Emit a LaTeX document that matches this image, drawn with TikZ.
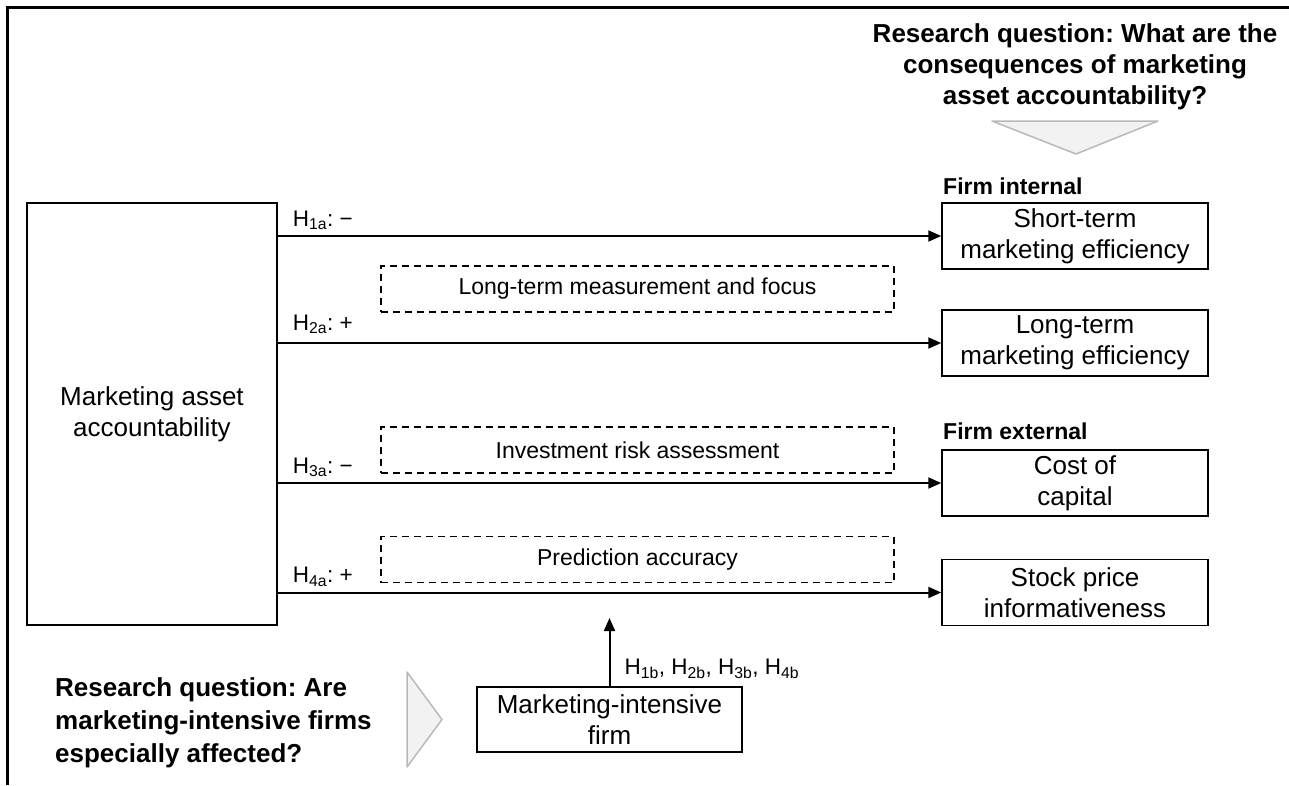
\documentclass[tikz,border=0pt]{standalone}
\usepackage{fontspec}
\setmainfont{Liberation Sans}
\usetikzlibrary{arrows.meta}
\frenchspacing

\begin{document}
\begin{tikzpicture}[x=1pt,y=-1pt,
  box/.style={draw,line width=1.5pt,align=center,inner sep=0pt,font=\fontsize{26}{31}\selectfont},
  outbox/.style={box,minimum width=266pt,minimum height=66pt},
  medbox/.style={draw,dash pattern=on 7pt off 5pt,line width=1.5pt,minimum width=513pt,minimum height=46pt,inner sep=0pt,font=\fontsize{23}{28}\selectfont},
  effect/.style={line width=2pt,-{Triangle[length=13pt,width=11pt]}},
  hyp/.style={anchor=base west,inner sep=0pt,xshift=14pt,yshift=10pt,font=\fontsize{22.5}{26}\selectfont},
  group/.style={anchor=base west,inner sep=0pt,font=\bfseries\fontsize{23}{28}\selectfont},
  question/.style={inner sep=0pt,font=\bfseries\fontsize{26}{31}\selectfont},
  pointer/.style={draw=gray!55,fill=gray!10,line width=1.5pt,line join=round}]
\useasboundingbox (0,0) rectangle (1289,785);
\draw[line width=3pt] (7,785) -- (7,7) -- (1289,7);
% research questions
\node[question,align=center] (rq1) at (1075,67) {Research question: What are the\\consequences of marketing\\asset accountability?};
\draw[pointer] (992,121) -- (1158,121) -- (1076,154) -- cycle;
\node[question,align=left,anchor=west,font=\bfseries\fontsize{26}{33}\selectfont] (rq2) at (55,723) {Research question: Are\\marketing-intensive firms\\especially affected?};
\draw[pointer] (407,672) -- (407,767) -- (442,719.5) -- cycle;
% boxes
\node[box,minimum width=250pt,minimum height=422pt] (acc) at (152,414) {Marketing asset\\accountability};
\node[outbox] (st) at (1075,236) {Short-term\\marketing efficiency};
\node[outbox] (lt) at (1075,343) {Long-term\\marketing efficiency};
\node[outbox] (coc) at (1075,483) {Cost of\\capital};
\node[outbox] (spi) at (1075,592.5) {Stock price\\informativeness};
\node[group] (fi) at (943,194) {Firm internal};
\node[group] (fe) at (943,439) {Firm external};
\node[medbox] (m1) at (637.5,289) {Long-term measurement and focus};
\node[medbox] (m2) at (637.5,450) {Investment risk assessment};
\node[medbox] (m3) at (637.5,559.5) {Prediction accuracy};
\node[box,minimum width=265pt,minimum height=65pt] (mif) at (609.5,719.5) {Marketing-intensive\\firm};
% effects
\draw[effect] (acc.east |- st.west) -- (st.west) node[hyp,pos=0] {H\textsubscript{1a}: −};
\draw[effect] (acc.east |- lt.west) -- (lt.west) node[hyp,pos=0,yshift=3pt] {H\textsubscript{2a}: +};
\draw[effect] (acc.east |- coc.west) -- (coc.west) node[hyp,pos=0] {H\textsubscript{3a}: −};
\draw[effect] (acc.east |- spi.west) -- (spi.west) node[hyp,pos=0] {H\textsubscript{4a}: +};
\coordinate (mtop) at (609.5,618);
\draw[effect] (mif.north) -- (mtop) node[hyp,pos=0,yshift=2pt] {H\textsubscript{1b}, H\textsubscript{2b}, H\textsubscript{3b}, H\textsubscript{4b}};
\end{tikzpicture}
\end{document}
